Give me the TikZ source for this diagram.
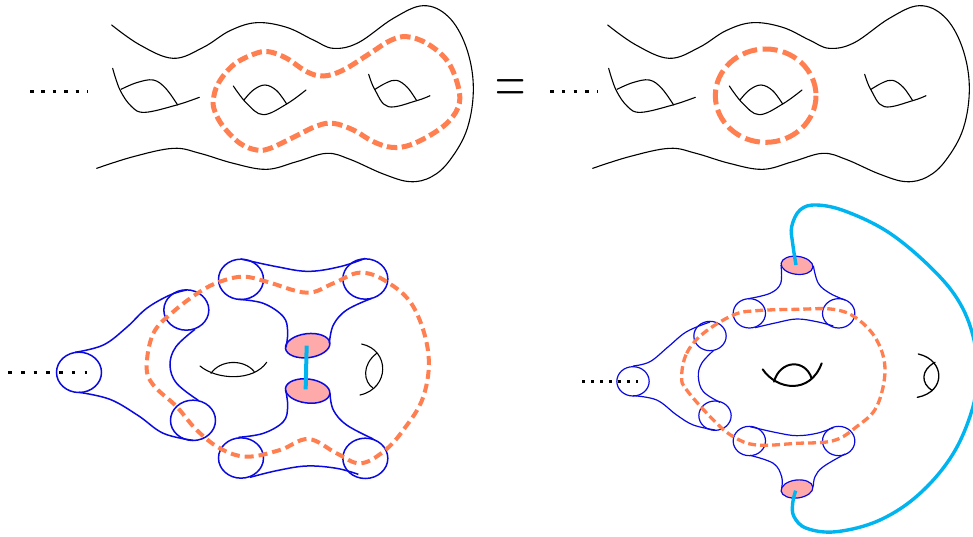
\documentclass[tikz,border=0pt]{standalone}
\usepackage{fontspec}
\definecolor{orangeC}{HTML}{FF7F50}
\definecolor{blueC}{HTML}{0A0AE0}
\definecolor{cyanC}{HTML}{00B4F0}
\definecolor{pinkC}{HTML}{FFAAAA}
\tikzset{
  thinblack/.style={draw=black,line width=1.1pt,line cap=round,line join=round},
  bluel/.style={draw=blueC,line width=1.5pt},
  orangedash/.style={draw=orangeC,line width=#1},
  cyanl/.style={draw=cyanC,line width=3.4pt},
  pinkel/.style={draw=blueC,fill=pinkC,line width=1.5pt},
  sm/.style={smooth,tension=.62},
  smc/.style={smooth cycle,tension=.62},
}
\newcommand{\surfacecurves}{%
  \draw[thinblack] plot[sm] coordinates {(335,75)(420,135)(520,175)(610,142)(690,92)(770,68)(860,82)(940,120)(1000,145)(1075,128)(1180,55)(1270,17)(1345,50)(1398,140)(1420,260)(1402,385)(1350,480)(1295,530)(1230,545)(1150,522)(1050,478)(980,460)(890,485)(800,508)(700,490)(600,460)(520,445)(400,470)(290,505)};
  \draw[thinblack] plot[sm] coordinates {(338,205)(360,270)(395,320)(435,337)(530,315)(598,292)};
  \draw[thinblack] plot[sm] coordinates {(363,268)(410,248)(460,240)(497,265)(533,315)};
  \draw[thinblack] plot[sm] coordinates {(700,258)(740,310)(790,344)(860,312)(918,270)};
  \draw[thinblack] plot[sm] coordinates {(732,300)(760,270)(795,255)(830,272)(860,312)};
  \draw[thinblack] plot[sm] coordinates {(1106,223)(1125,270)(1165,320)(1250,302)(1290,287)};
  \draw[thinblack] plot[sm] coordinates {(1125,268)(1160,248)(1190,241)(1222,262)(1250,302)};
}
\begin{document}
\begin{tikzpicture}[x=1pt,y=-1pt]
\clip (0,0) rectangle (973,536);
\fill[white] (0,0) rectangle (973,536);
% ---------- top left
\begin{scope}[x=0.33333pt,y=-0.33333pt]
  \surfacecurves
  \draw[orangedash=5pt,dash pattern=on 10.5pt off 4.5pt] plot[smc] coordinates {(640,300)(655,250)(700,195)(760,163)(805,155)(860,175)(920,215)(970,228)(1030,210)(1110,160)(1170,122)(1220,110)(1280,130)(1340,180)(1372,250)(1378,310)(1350,360)(1300,400)(1230,435)(1175,442)(1120,425)(1060,390)(1000,370)(950,378)(880,412)(810,445)(770,450)(720,430)(670,380)(645,335)};
  \draw[line width=3.6pt,dash pattern=on 3.6pt off 7.8pt] (90,275) -- (265,275);
\end{scope}
% ---------- top right
\begin{scope}[shift={(496,0)},x=0.33333pt,y=-0.33333pt]
  \surfacecurves
\end{scope}
\begin{scope}[shift={(490,0)},x=0.33333pt,y=-0.33333pt]
  \draw[orangedash=5pt,dash pattern=on 15pt off 5.5pt] (827,287) ellipse[x radius=151,y radius=140];
  \draw[line width=3.6pt,dash pattern=on 3.6pt off 8.2pt] (180,275) -- (322,275);
  \node[inner sep=0pt,yscale=1.6,transform shape,font=\fontsize{42}{42}\selectfont] (eq) at (62,275) {=};
\end{scope}
% ---------- bottom left
\begin{scope}[shift={(0,240)},x=0.33333pt,y=-0.33333pt]
  \foreach \p in {(237,397),(559,210),(579,541),(723,118),(1096,117),(723,654),(1096,655)}
    \draw[bluel] \p ellipse[x radius=67.5,y radius=60.5];
  \draw[pinkel] (923,317) ellipse[x radius=67,y radius=36,rotate=7];
  \draw[pinkel] (923,453) ellipse[x radius=67,y radius=36,rotate=-7];
  \draw[bluel] plot[sm] coordinates {(225,337)(310,315)(380,262)(440,205)(510,165)(560,150)};
  \draw[bluel] plot[sm] coordinates {(237,457)(330,478)(415,527)(490,580)(579,601)};
  \draw[bluel] plot[sm] coordinates {(585,268)(528,320)(510,375)(530,430)(595,481)};
  \draw[bluel] plot[sm] coordinates {(723,57)(830,80)(925,94)(1020,80)(1096,55)};
  \draw[bluel] plot[sm] coordinates {(715,178)(790,190)(850,230)(863,275)(858,322)};
  \draw[bluel] plot[sm] coordinates {(1115,175)(1040,210)(1000,255)(988,310)};
  \draw[bluel] plot[sm] coordinates {(857,450)(863,500)(850,545)(790,580)(715,592)};
  \draw[bluel] plot[sm] coordinates {(990,460)(1000,510)(1040,555)(1120,597)};
  \draw[bluel] plot[sm] coordinates {(750,712)(830,692)(920,678)(1010,685)(1075,703)};
  \draw[thinblack] (600,378) .. controls (650,420) and (760,425) .. (800,367);
  \draw[thinblack] (633,400) .. controls (660,360) and (730,355) .. (763,395);
  \draw[thinblack] (1085,312) .. controls (1170,330) and (1170,445) .. (1080,465);
  \draw[thinblack] (1130,340) .. controls (1085,375) and (1090,425) .. (1120,445);
  \draw[orangedash=4pt,dash pattern=on 9pt off 5pt] plot[smc] coordinates {(440,380)(460,280)(520,215)(600,155)(660,125)(730,110)(800,125)(920,158)(1000,130)(1080,98)(1160,125)(1240,200)(1285,340)(1270,470)(1210,570)(1150,635)(1080,670)(1010,640)(925,597)(840,630)(740,650)(660,625)(590,570)(530,500)(460,435)};
  \draw[cyanl,line width=4pt] (920,317) -- (917,448);
  \draw[line width=3.6pt,dash pattern=on 3.6pt off 9.1pt] (25,398) -- (262,398);
\end{scope}
% ---------- bottom right
\begin{scope}[shift={(570,200)},x=0.33333pt,y=-0.33333pt]
  \foreach \p in {(189,544),(420,408),(435,647),(538,340),(806,340),(538,723),(806,723)}
    \draw[bluel,line width=1.2pt] \p ellipse[x radius=48.5,y radius=44];
  \draw[pinkel,line width=1.2pt] (681,196) ellipse[x radius=48,y radius=27,rotate=-7];
  \draw[pinkel,line width=1.2pt] (681,867) ellipse[x radius=48,y radius=27,rotate=7];
  \draw[bluel,line width=1.2pt] plot[sm] coordinates {(189,498)(240,485)(295,440)(350,395)(420,366)};
  \draw[bluel,line width=1.2pt] plot[sm] coordinates {(189,587)(260,600)(320,645)(370,675)(435,690)};
  \draw[bluel,line width=1.2pt] plot[sm] coordinates {(430,452)(395,490)(385,530)(400,575)(450,607)};
  \draw[bluel,line width=1.2pt] plot[sm] coordinates {(535,296)(600,280)(632,250)(633,195)};
  \draw[bluel,line width=1.2pt] plot[sm] coordinates {(730,197)(745,250)(780,280)(825,300)};
  \draw[bluel,line width=1.2pt] plot[sm] coordinates {(555,383)(620,368)(680,357)(740,365)(790,378)};
  \draw[bluel,line width=1.2pt] plot[sm] coordinates {(540,680)(620,698)(680,707)(740,700)(790,683)};
  \draw[bluel,line width=1.2pt] plot[sm] coordinates {(540,766)(610,790)(635,830)(635,865)};
  \draw[bluel,line width=1.2pt] plot[sm] coordinates {(825,762)(760,800)(735,830)(730,860)};
  \draw[thinblack,line width=2pt] (578,508) .. controls (620,570) and (720,585) .. (755,490);
  \draw[thinblack,line width=2pt] (612,545) .. controls (630,480) and (705,475) .. (725,535);
  \draw[thinblack,line width=1.3pt] (1045,462) .. controls (1125,480) and (1130,575) .. (1042,592);
  \draw[thinblack,line width=1.3pt] (1095,487) .. controls (1052,510) and (1052,550) .. (1087,572);
  \draw[orangedash=3.3pt,dash pattern=on 8pt off 4pt] plot[smc] coordinates {(335,530)(350,460)(400,400)(490,345)(560,332)(680,328)(790,328)(860,355)(920,420)(945,510)(920,620)(860,680)(790,722)(680,730)(560,735)(490,710)(430,660)(350,570)};
  \draw[cyanl] plot[sm] coordinates {(678,195)(668,130)(665,80)(690,30)(740,15)(830,35)(960,100)(1090,210)(1170,310)(1212,420)(1218,520)(1209,620)(1150,760)(1050,880)(930,960)(800,995)(710,985)(672,950)(668,910)(677,872)};
  \draw[line width=2.5pt,dash pattern=on 2.5pt off 6.5pt] (37,544) -- (205,544);
\end{scope}
\end{tikzpicture}
\end{document}
